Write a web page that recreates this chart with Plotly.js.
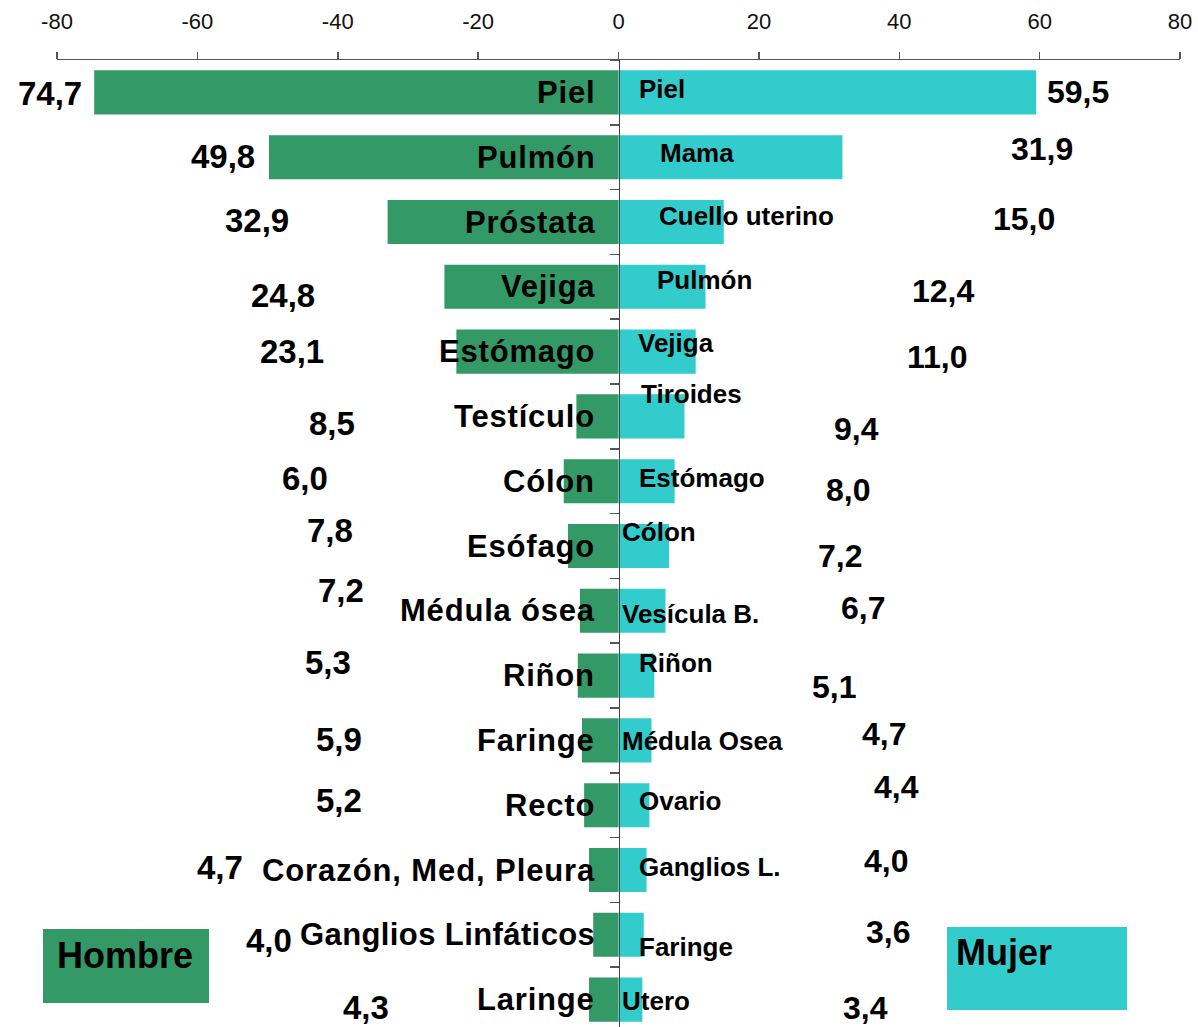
<!DOCTYPE html>
<html>
<head>
<meta charset="utf-8">
<script src="https://cdn.plot.ly/plotly-3.0.1.min.js"></script>
<style>
  html, body { margin: 0; padding: 0; overflow: hidden; background: #fff; }
  #chart { width: 1198px; height: 1036px; }
</style>
</head>
<body>
<div id="chart"></div>
<script>
// ---------------- data ----------------
const categoriesMen = ['Piel','Pulmón','Próstata','Vejiga','Estómago','Testículo','Cólon','Esófago',
  'Médula ósea','Riñon','Faringe','Recto','Corazón, Med, Pleura','Ganglios Linfáticos','Laringe'];
const valuesMen = [74.7, 49.8, 32.9, 24.8, 23.1, 6.0, 7.8, 7.2, 5.5, 5.8, 5.2, 4.9, 4.2, 3.6, 4.2];
const labelsMen = ['74,7','49,8','32,9','24,8','23,1','8,5','6,0','7,8','7,2','5,3','5,9','5,2','4,7','4,0','4,3'];

const categoriesWomen = ['Piel','Mama','Cuello uterino','Pulmón','Vejiga','Tiroides','Estómago','Cólon',
  'Vesícula B.','Riñon','Médula Osea','Ovario','Ganglios L.','Faringe','Utero'];
const valuesWomen = [59.5, 31.9, 15.0, 12.4, 11.0, 9.4, 8.0, 7.2, 6.7, 5.1, 4.7, 4.4, 4.0, 3.6, 3.4];
const labelsWomen = ['59,5','31,9','15,0','12,4','11,0','9,4','8,0','7,2','6,7','5,1','4,7','4,4','4,0','3,6','3,4'];

const tickValues = [-80, -60, -40, -20, 0, 20, 40, 60, 80];
const tickLabels = ['-80', '-60', '-40', '-20', '0', '20', '40', '60', '80'];
const legendNames = ['Hombre', 'Mujer'];

// ---------------- layout helpers (pixel placement of free text) ----------------
const W = 1198, H = 1036;
const M = { l: 57, r: 18, t: 60, b: 4 };
const PW = W - M.l - M.r, PH = H - M.t - M.b;
const PX = px => (px - M.l) / PW;
const PY = py => (H - M.b - py) / PH;

const menValuePos = [[50,93],[223,157],[257,220],[283,295],[292,352],[332,424],[305,479],[330,530],
  [341,590],[328,662],[339,740],[339,800],[220,867],[269,940],[366,1007]];
const womenValuePos = [[1078,92],[1042,149],[1024,219],[943,291],[937,357],[856,429],[848,490],[840,556],
  [863,608],[834,687],[884,734],[896,787],[886,861],[888,932],[865,1008]];
const womenNamePos = [[637,89],[658,153],[657,216],[655,280],[636,343],[639,394],[637,478],[620,532],
  [620,614],[637,663],[620,741],[637,801],[637,867],[637,947],[620,1001]];
const menNameSpacing = [0.8,0.8,0.8,0.8,0.8,0.8,0.8,0.8,0.8,0.8,0.8,0.8,0.9,0.4,0.8];

const GREEN = '#339966', CYAN = '#33CCCC';
const FONT = 'Liberation Sans, Arial, sans-serif';
const rows = categoriesMen.map((_, i) => i);

const traces = [
  {
    type: 'bar', orientation: 'h', name: legendNames[0],
    y: rows, x: valuesMen.map(v => -v),
    marker: { color: GREEN, line: { width: 0 } },
    width: 0.68, hoverinfo: 'skip'
  },
  {
    type: 'bar', orientation: 'h', name: legendNames[1],
    y: rows, x: valuesWomen,
    marker: { color: CYAN, line: { width: 0 } },
    width: 0.68, hoverinfo: 'skip'
  }
];

const annotations = [];
// men category names, right-aligned next to the zero line (slightly spaced letters)
categoriesMen.forEach((c, i) => {
  annotations.push({
    text: '<span style="letter-spacing:' + menNameSpacing[i] + 'px">' + c + '</span>',
    xref: 'x', yref: 'y', x: 0, y: i, xshift: -22,
    xanchor: 'right', yanchor: 'middle', showarrow: false,
    font: { family: FONT, size: 31, weight: 'bold', color: '#000' }
  });
});
// men values
labelsMen.forEach((t, i) => {
  annotations.push({
    text: t, xref: 'paper', yref: 'paper', x: PX(menValuePos[i][0]), y: PY(menValuePos[i][1]),
    xanchor: 'center', yanchor: 'middle', showarrow: false,
    font: { family: FONT, size: 33, weight: 'bold', color: '#000' }
  });
});
// women category names
categoriesWomen.forEach((c, i) => {
  annotations.push({
    text: c, xref: 'paper', yref: 'paper', x: PX(womenNamePos[i][0]), y: PY(womenNamePos[i][1]),
    xanchor: 'left', yanchor: 'middle', showarrow: false,
    font: { family: FONT, size: 26, weight: 'bold', color: '#000' }
  });
});
// women values
labelsWomen.forEach((t, i) => {
  annotations.push({
    text: t, xref: 'paper', yref: 'paper', x: PX(womenValuePos[i][0]), y: PY(womenValuePos[i][1]),
    xanchor: 'center', yanchor: 'middle', showarrow: false,
    font: { family: FONT, size: 32, weight: 'bold', color: '#000' }
  });
});
// legend boxes text
annotations.push({
  text: legendNames[0], xref: 'paper', yref: 'paper', x: PX(55), y: PY(955),
  xanchor: 'left', yanchor: 'middle', showarrow: false,
  font: { family: FONT, size: 36, weight: 'bold', color: '#000' }
});
annotations.push({
  text: legendNames[1], xref: 'paper', yref: 'paper', x: PX(954), y: PY(952),
  xanchor: 'left', yanchor: 'middle', showarrow: false,
  font: { family: FONT, size: 36, weight: 'bold', color: '#000' }
});

const shapes = [
  { type: 'rect', xref: 'paper', yref: 'paper', x0: PX(43), x1: PX(209), y0: PY(1003), y1: PY(929),
    fillcolor: GREEN, line: { width: 0 }, layer: 'below' },
  { type: 'rect', xref: 'paper', yref: 'paper', x0: PX(947), x1: PX(1127), y0: PY(1010), y1: PY(927),
    fillcolor: CYAN, line: { width: 0 }, layer: 'below' }
];

const layout = {
  width: W, height: H,
  margin: M,
  paper_bgcolor: '#fff', plot_bgcolor: '#fff',
  showlegend: false,
  barmode: 'overlay',
  font: { family: FONT, color: '#000' },
  xaxis: {
    side: 'top', range: [-80, 80], tickvals: tickValues, ticktext: tickLabels,
    showline: true, linecolor: '#555', linewidth: 1.5,
    ticks: 'outside', ticklen: 7, tickwidth: 1.5, tickcolor: '#555',
    showgrid: false, zeroline: false,
    tickfont: { family: FONT, size: 22, color: '#111' },
    ticklabelstandoff: 14
  },
  yaxis: {
    range: [14.5, -0.5], anchor: 'free', position: 0.5,
    showline: true, linecolor: '#444', linewidth: 1.5,
    ticks: 'outside', ticklen: 9, tickwidth: 1.5, tickcolor: '#555',
    tickvals: rows.concat([rows.length]).map(v => v - 0.5),
    showticklabels: false, showgrid: false, zeroline: false
  },
  annotations: annotations,
  shapes: shapes
};

Plotly.newPlot('chart', traces, layout, { displayModeBar: false, staticPlot: true });
</script>
</body>
</html>
